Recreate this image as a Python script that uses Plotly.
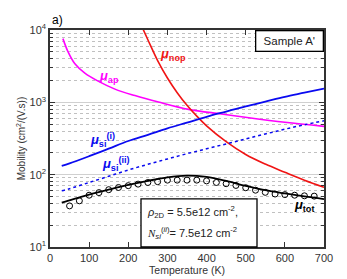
import plotly.graph_objects as go

# ---- data ----
T_ap = [33, 46, 63, 89, 123, 166, 217, 277, 354, 438, 508, 600, 700]
mu_ap = [7600, 5000, 3440, 2540, 1965, 1523, 1240, 1010, 800, 690, 612, 530, 465]

T_nop = [238, 250, 275, 300, 325, 350, 375, 400, 450, 500, 550, 600, 650, 700]
mu_nop = [10200, 7340, 3780, 2170, 1360, 910, 644, 474, 286, 190, 140, 108, 84, 67]

T_si1 = [30, 50, 100, 150, 200, 250, 300, 350, 400, 450, 500, 550, 600, 650, 700]
mu_si1 = [132, 143, 180, 229, 292, 356, 437, 525, 631, 746, 881, 1023, 1189, 1357, 1549]

T_si2 = [30, 50, 100, 150, 200, 250, 300, 350, 400, 450, 500, 550, 600, 650, 700]
mu_si2 = [60, 64, 78, 95, 116, 139, 165, 195, 228, 266, 312, 365, 425, 490, 555]

T_tot = [30, 60, 100, 150, 200, 250, 300, 350, 400, 450, 500, 550, 600, 650, 700]
mu_tot = [41, 46, 53, 62, 72, 82, 92, 97, 93, 82, 70, 61, 55, 50, 46]

T_exp = [50, 75, 100, 125, 150, 175, 200, 225, 250, 275, 300, 325, 350, 375,
         400, 425, 450, 475, 500, 525, 550, 575, 600, 625, 650, 675]
mu_exp = [37, 43.5, 52, 56.5, 62, 66.5, 70.5, 74, 78, 80, 84, 84, 84, 84,
          82, 78, 75, 71, 66, 61, 57, 54, 53, 52, 51, 50.5]

x_ticks = [0, 100, 200, 300, 400, 500, 600, 700]
y_ticks = [10, 100, 1000, 10000]
y_ticktext = ["10<sup>1</sup>", "10<sup>2</sup>", "10<sup>3</sup>", "10<sup>4</sup>"]
y_minor = [m * d for d in (10, 100, 1000) for m in range(2, 10)]

RED = "rgb(240,20,20)"
MAG = "rgb(255,0,255)"
BLUE = "rgb(10,10,240)"
FONT = "Liberation Sans, Arial"

fig = go.Figure()
fig.add_trace(go.Scatter(x=T_ap, y=mu_ap, mode="lines", line=dict(color=MAG, width=1.6, shape="spline", smoothing=1.0)))
fig.add_trace(go.Scatter(x=T_nop, y=mu_nop, mode="lines", line=dict(color=RED, width=1.6, shape="spline", smoothing=1.0)))
fig.add_trace(go.Scatter(x=T_si1, y=mu_si1, mode="lines", line=dict(color=BLUE, width=1.8, shape="spline", smoothing=1.0)))
fig.add_trace(go.Scatter(x=T_si2, y=mu_si2, mode="lines", line=dict(color=BLUE, width=1.5, dash="dot", shape="spline", smoothing=1.0)))
fig.add_trace(go.Scatter(x=T_tot, y=mu_tot, mode="lines", line=dict(color="black", width=1.8, shape="spline", smoothing=1.0)))
fig.add_trace(go.Scatter(x=T_exp, y=mu_exp, mode="markers",
                         marker=dict(symbol="circle-open", size=6, color="black", line=dict(width=1))))

axis_common = dict(showline=True, linecolor="#333333", linewidth=1.5, mirror="allticks",
                   ticks="inside", tickcolor="#333333", tickfont=dict(family=FONT, size=11, color="#333333"),
                   zeroline=False)

fig.update_xaxes(range=[0, 700], tickvals=x_ticks, showgrid=False, ticklen=5,
                 title=dict(text="Temperature (K)", font=dict(family=FONT, size=10.5, color="#333333"), standoff=4),
                 **axis_common)
fig.update_yaxes(type="log", range=[1, 4], tickvals=y_ticks, ticktext=y_ticktext, ticklen=5,
                 showgrid=True, gridcolor="#d0d0d0", gridwidth=1,
                 minor=dict(tickvals=y_minor, ticks="inside", ticklen=3, tickcolor="#333333",
                            showgrid=True, gridcolor="#c0c0c0", griddash="dot", gridwidth=1),
                 title=dict(text="Mobility (cm<sup>2</sup>/(V.s))", font=dict(family=FONT, size=10, color="#333333"), standoff=2),
                 **axis_common)

W, H = 347, 279
L, R, Tm, B = 42, 31, 22, 32
pw, ph = W - L - R, H - Tm - B


def px2paper(px, py):
    return (px - L) / pw, 1 - (py - Tm) / ph


font_lbl = dict(family=FONT, size=13)
ann = [
    dict(x=165, y=47, text="<b><i>μ</i><sub>nop</sub></b>", color=RED),
    dict(x=101, y=70, text="<b><i>μ</i><sub>ap</sub></b>", color=MAG),
    dict(x=94, y=136, text="<b><i>μ</i><sub>si</sub><sup>(i)</sup></b>", color=BLUE),
    dict(x=108, y=161, text="<b><i>μ</i><sub>si</sub><sup>(ii)</sup></b>", color=BLUE),
    dict(x=296, y=204, text="<b><i>μ</i><sub>tot</sub></b>", color="black"),
]
for a in ann:
    ax_, ay_ = px2paper(a["x"], a["y"])
    fig.add_annotation(x=ax_, y=ay_, xref="paper", yref="paper", text=a["text"], showarrow=False,
                       font=dict(color=a["color"], **font_lbl), xanchor="center", yanchor="middle")

fig.add_annotation(x=0, y=1.005, xref="paper", yref="paper", xanchor="left", yanchor="bottom",
                   text="a)", showarrow=False, font=dict(family=FONT, size=12, color="black"))
fig.add_annotation(x=1, y=1, xref="paper", yref="paper", xanchor="right", yanchor="top",
                   text="Sample A'", showarrow=False, bordercolor="black", borderwidth=1.3, borderpad=2,
                   bgcolor="white", font=dict(family=FONT, size=11.5, color="#222222"),
                   width=62, height=15)

# parameter box
x0, y0 = px2paper(133, 197)
x1, y1 = px2paper(249, 247)
fig.add_shape(type="rect", xref="paper", yref="paper", x0=x0, y0=y1, x1=x1, y1=y0,
              line=dict(color="black", width=1.3), fillcolor="white", layer="above")
tx, ty1 = px2paper(137, 211)
_, ty2 = px2paper(137, 233)
fig.add_annotation(x=tx, y=ty1, xref="paper", yref="paper", xanchor="left", yanchor="middle",
                   text="<i>ρ</i><sub>2D</sub> = 5.5e12 cm<sup>-2</sup>,", showarrow=False,
                   font=dict(family=FONT, size=11, color="#222222"))
fig.add_annotation(x=tx, y=ty2, xref="paper", yref="paper", xanchor="left", yanchor="middle",
                   text="<i><span style='font-family:Liberation Serif'>N</span></i><sub><i>si</i></sub><sup>(<i>ii</i>)</sup>= 7.5e12 cm<sup>-2</sup>",
                   showarrow=False, font=dict(family=FONT, size=11, color="#222222"))

fig.update_layout(width=W, height=H, margin=dict(l=L, r=R, t=Tm, b=B),
                  plot_bgcolor="white", paper_bgcolor="white", showlegend=False)

fig.write_html("out.html")
